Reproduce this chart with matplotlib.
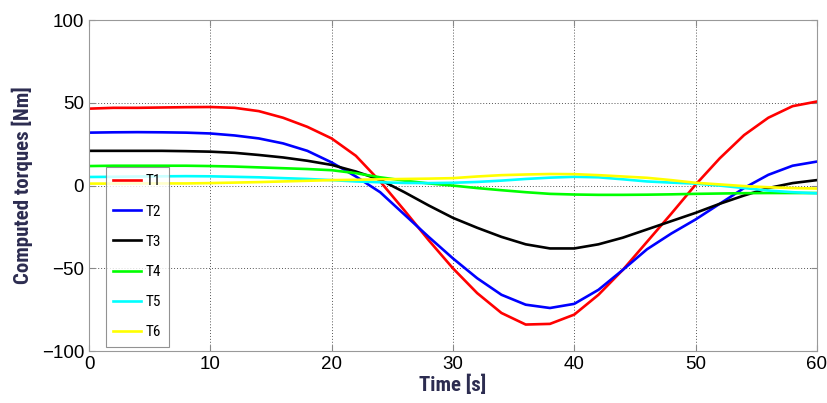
import matplotlib
matplotlib.use('Agg')
import matplotlib.pyplot as plt
from matplotlib import font_manager

# time axis [s], one sample every 2 s
time_s = list(range(0, 61, 2))

t1 = [46.5, 47, 47, 47.2, 47.4, 47.5, 47, 45, 41, 35.5, 28.5, 18, 2.5, -15, -33, -50,
      -65, -77, -84, -83.6, -78, -66, -51, -34, -17, 0.5, 16.5, 30.5, 41, 48, 50.8]
t2 = [32, 32.2, 32.3, 32.2, 32, 31.5, 30.3, 28.5, 25.5, 21, 14, 5.5, -4, -17.5, -31, -44,
      -56, -66, -72, -74, -71.5, -63, -51, -38.5, -29, -20.5, -11, -1.5, 6.5, 12, 14.5]
t3 = [21, 21, 21, 21, 20.8, 20.5, 19.8, 18.5, 17, 15, 12.5, 8.5, 3.5, -4, -12, -19.5,
      -25.5, -31, -35.5, -38, -38, -35.5, -31.5, -26.5, -21.5, -16.5, -11, -6, -1.5, 1.5, 3.3]
t4 = [11.8, 12, 12, 12, 12, 11.8, 11.5, 11, 10.5, 10, 9.3, 7.5, 5, 3, 1.3, 0,
      -1.5, -2.8, -4, -5, -5.4, -5.6, -5.6, -5.5, -5.3, -5, -4.8, -4.6, -4.5, -4.5, -4.5]
t5 = [5.2, 5.3, 5.5, 5.6, 5.7, 5.6, 5.3, 5, 4.5, 4, 3.3, 2.5, 2, 1.6, 1.5, 1.7,
      2.2, 3, 4, 4.8, 5.3, 5, 3.8, 2.5, 1.8, 1.2, 0, -1.5, -3, -4, -4.7]
t6 = [1.2, 1.2, 1.3, 1.3, 1.3, 1.5, 1.8, 2.1, 2.5, 2.9, 3.3, 3.5, 3.8, 4, 4.2, 4.5,
      5.5, 6.3, 6.7, 7, 6.9, 6.3, 5.5, 4.7, 3.3, 1.7, 0.7, -0.3, -1, -1.5, -1.8]

series = [t1, t2, t3, t4, t5, t6]
labels = ['T1', 'T2', 'T3', 'T4', 'T5', 'T6']
colors = ['#ff0000', '#0000ff', '#000000', '#00ff00', '#00ffff', '#ffff00']

# condensed font for labels, if we have one
installed = {f.name for f in font_manager.fontManager.ttflist}
narrow = 'DejaVu Sans'
for name in ['Liberation Sans Narrow', 'Roboto Condensed', 'Open Sans Condensed', 'DejaVu Sans']:
    if name in installed:
        narrow = name
        break

plt.rcParams['font.family'] = ['Liberation Sans', 'DejaVu Sans']

fig = plt.figure(figsize=(8.28, 4.03), dpi=100)
ax = fig.add_axes([0.1075, 0.129, 0.879, 0.821])

for y, lab, c in zip(series, labels, colors):
    ax.plot(time_s, y, color=c, lw=1.9, label=lab)

ax.set_xlim(0, 60)
ax.set_ylim(-100, 100)
ax.set_xticks(range(0, 61, 10))
ax.set_yticks([-100, -50, 0, 50, 100])
ax.grid(True, color='#555555', linestyle=(0, (1, 2)), lw=0.7)
ax.tick_params(direction='in', labelsize=13.5, color='#888888', length=4,
               top=True, right=True)
for s in ax.spines.values():
    s.set_color('#999999')

navy = '#2c2c50'
ax.set_xlabel('Time [s]', fontsize=15, fontweight='bold', family=narrow, color=navy, labelpad=1)
ax.set_ylabel('Computed torques [Nm]', fontsize=15, fontweight='bold', family=narrow,
              color=navy, labelpad=6)

leg = ax.legend(loc='lower left', bbox_to_anchor=(0.023, 0.012), borderaxespad=0,
                fancybox=False, handlelength=1.8, labelspacing=1.06, handletextpad=0.3,
                borderpad=0.5, prop={'family': narrow, 'size': 11})
leg.get_frame().set_edgecolor('#777777')
leg.get_frame().set_linewidth(0.8)

fig.savefig('out.png', dpi=100)
